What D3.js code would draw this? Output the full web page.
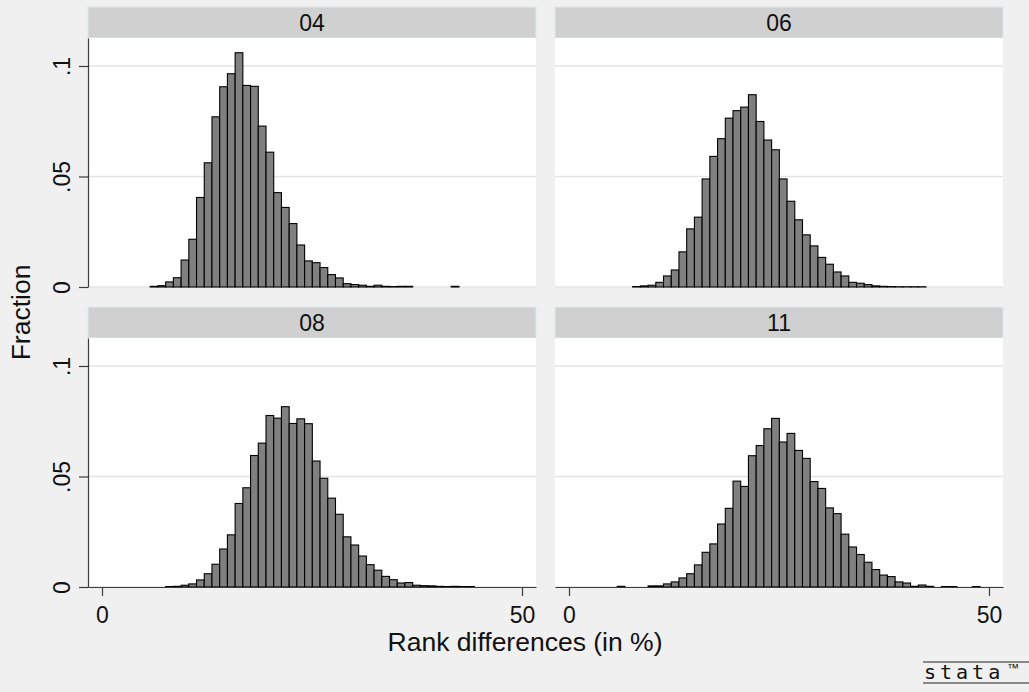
<!DOCTYPE html>
<html>
<head>
<meta charset="utf-8">
<script src="https://cdn.jsdelivr.net/npm/d3@7"></script>
<style>
  html, body { margin: 0; padding: 0; background: #f0f0f0; }
  svg { display: block; }
  text { font-family: "Liberation Sans", Arial, Helvetica, sans-serif; fill: #111; }
</style>
</head>
<body>
<svg id="chart" width="1029" height="692"></svg>
<script>
// Histogram bins shared by all groups (rank differences, in %)
const binStart = 5.74;
const binWidth = 0.919;

const groupLabels = ["04", "06", "08", "11"];

// Fraction of observations per bin, one array per group (47 bins)
const frac04 = [0.0003, 0.0006, 0.0023, 0.0042, 0.0122, 0.0216, 0.0405, 0.0562, 0.0770, 0.0906,
                0.0965, 0.1060, 0.0912, 0.0908, 0.0728, 0.0610, 0.0427, 0.0360, 0.0287, 0.0190,
                0.0118, 0.0110, 0.0088, 0.0056, 0.0041, 0.0015, 0.0011, 0.0008, 0.0003, 0.0008,
                0.0003, 0.0002, 0.0003, 0.0003, 0, 0, 0, 0, 0, 0.0003,
                0, 0, 0, 0, 0, 0, 0];
const frac06 = [0, 0, 0.0002, 0.0005, 0.0008, 0.0021, 0.0050, 0.0077, 0.0159, 0.0263,
                0.0316, 0.0489, 0.0591, 0.0671, 0.0764, 0.0798, 0.0814, 0.0870, 0.0749, 0.0665,
                0.0621, 0.0489, 0.0388, 0.0304, 0.0236, 0.0186, 0.0134, 0.0103, 0.0068, 0.0050,
                0.0021, 0.0017, 0.0011, 0.0005, 0.0003, 0.0002, 0.0001, 0.0001, 0.0001, 0.0001,
                0, 0, 0, 0, 0, 0, 0];
const frac08 = [0, 0, 0.0002, 0.0003, 0.0008, 0.0014, 0.0032, 0.0060, 0.0103, 0.0172,
                0.0236, 0.0378, 0.0449, 0.0595, 0.0651, 0.0776, 0.0764, 0.0816, 0.0740, 0.0761,
                0.0739, 0.0570, 0.0492, 0.0402, 0.0329, 0.0227, 0.0190, 0.0140, 0.0101, 0.0076,
                0.0048, 0.0033, 0.0018, 0.0020, 0.0008, 0.0006, 0.0005, 0.0003, 0.0002, 0.0003,
                0.0002, 0.0002, 0, 0, 0, 0, 0];
const frac11 = [0.0003, 0, 0, 0, 0.0005, 0.0005, 0.0014, 0.0023, 0.0041, 0.0060,
                0.0100, 0.0157, 0.0195, 0.0285, 0.0356, 0.0479, 0.0455, 0.0594, 0.0640, 0.0716,
                0.0763, 0.0656, 0.0695, 0.0618, 0.0582, 0.0477, 0.0446, 0.0358, 0.0332, 0.0239,
                0.0181, 0.0147, 0.0112, 0.0079, 0.0054, 0.0047, 0.0023, 0.0018, 0.0003, 0.0009,
                0.0003, 0, 0.0002, 0.0002, 0, 0, 0.0002];

const yTicks = [0, 0.05, 0.1];
const yTickLabels = ["0", ".05", ".1"];
const xTicks = [0, 50];
const xTickLabels = ["0", "50"];

const yTitle = "Fraction";
const xTitle = "Rank differences (in %)";

// ---- layout ----
const svg = d3.select("#chart");
const panelW = 448, panelH = 249, stripH = 31;
const tickFont = 23, titleFont = 26.5;
const panels = [
  { label: groupLabels[0], values: frac04, x: 88,  y: 38,  left: true,  bottom: false },
  { label: groupLabels[1], values: frac06, x: 555, y: 38,  left: false, bottom: false },
  { label: groupLabels[2], values: frac08, x: 88,  y: 338, left: true,  bottom: true },
  { label: groupLabels[3], values: frac11, x: 555, y: 338, left: false, bottom: true }
];

const xScale = d3.scaleLinear().domain([-1.667, 51.667]).range([0, panelW]);
const yScale = d3.scaleLinear().domain([0, 0.11267]).range([panelH, 0]);

svg.append("rect").attr("width", 1029).attr("height", 692).attr("fill", "#f0f0f0");

panels.forEach(p => {
  const g = svg.append("g").attr("transform", `translate(${p.x},${p.y})`);

  // strip with group label
  g.append("rect")
    .attr("x", 0).attr("y", -stripH).attr("width", panelW).attr("height", stripH)
    .attr("fill", "#d0d0d0").attr("stroke", "#dde7ee").attr("stroke-width", 1);
  g.append("text")
    .attr("x", panelW / 2).attr("y", -7.5)
    .attr("text-anchor", "middle").attr("font-size", tickFont)
    .text(p.label);

  // plot region
  g.append("rect")
    .attr("x", 0).attr("y", 0).attr("width", panelW).attr("height", panelH)
    .attr("fill", "#ffffff");

  // horizontal grid lines
  g.selectAll("line.grid").data(yTicks).enter().append("line")
    .attr("class", "grid")
    .attr("x1", 0).attr("x2", panelW)
    .attr("y1", d => yScale(d)).attr("y2", d => yScale(d))
    .attr("stroke", "#e4e4e4").attr("stroke-width", 1.5);

  // histogram bars
  const bins = p.values.map((v, i) => ({
    x0: binStart + i * binWidth,
    x1: binStart + (i + 1) * binWidth,
    v: v
  })).filter(b => b.v > 0);

  g.selectAll("rect.bar").data(bins).enter().append("rect")
    .attr("class", "bar")
    .attr("x", b => xScale(b.x0))
    .attr("width", b => xScale(b.x1) - xScale(b.x0))
    .attr("y", b => yScale(b.v))
    .attr("height", b => yScale(0) - yScale(b.v))
    .attr("fill", "#808080").attr("stroke", "#000").attr("stroke-width", 1.1);

  // y axis on the left column
  if (p.left) {
    const ya = g.append("g").call(
      d3.axisLeft(yScale).tickValues(yTicks)
        .tickFormat((d, i) => yTickLabels[i]).tickSize(9).tickSizeOuter(0)
    );
    ya.select(".domain").attr("stroke", "#3a3a3a").attr("stroke-width", 1.2);
    ya.selectAll(".tick line").attr("stroke", "#3a3a3a").attr("stroke-width", 1.2);
    ya.selectAll(".tick text")
      .attr("x", 0).attr("dy", 0)
      .attr("text-anchor", "middle")
      .attr("transform", "translate(-18,0) rotate(-90)")
      .attr("font-size", tickFont).attr("font-family", null).attr("fill", "#111");
  }

  // x axis on the bottom row
  if (p.bottom) {
    const xa = g.append("g").attr("transform", `translate(0,${panelH})`).call(
      d3.axisBottom(xScale).tickValues(xTicks)
        .tickFormat((d, i) => xTickLabels[i]).tickSize(9).tickSizeOuter(0)
    );
    xa.select(".domain").attr("stroke", "#3a3a3a").attr("stroke-width", 1.2);
    xa.selectAll(".tick line").attr("stroke", "#3a3a3a").attr("stroke-width", 1.2);
    xa.selectAll(".tick text")
      .attr("y", 36).attr("dy", 0)
      .attr("font-size", tickFont).attr("font-family", null).attr("fill", "#111");
  }
});

// axis titles
svg.append("text")
  .attr("transform", "translate(30,312.5) rotate(-90)")
  .attr("text-anchor", "middle").attr("font-size", titleFont)
  .text(yTitle);

svg.append("text")
  .attr("x", 525).attr("y", 651)
  .attr("text-anchor", "middle").attr("font-size", titleFont)
  .text(xTitle);

// stata mark
const mark = svg.append("g");
mark.append("line").attr("x1", 923).attr("x2", 1029).attr("y1", 662).attr("y2", 662)
  .attr("stroke", "#222").attr("stroke-width", 1.2);
mark.append("line").attr("x1", 923).attr("x2", 1029).attr("y1", 683).attr("y2", 683)
  .attr("stroke", "#222").attr("stroke-width", 1.2);
mark.append("text")
  .attr("x", 924).attr("y", 679)
  .attr("font-size", 20).attr("letter-spacing", 4)
  .style("font-family", "'DejaVu Sans Mono', monospace")
  .attr("fill", "#222")
  .text("stata");
mark.append("text")
  .attr("x", 1007).attr("y", 672)
  .attr("font-size", 12).attr("fill", "#222")
  .text("™");
</script>
</body>
</html>
